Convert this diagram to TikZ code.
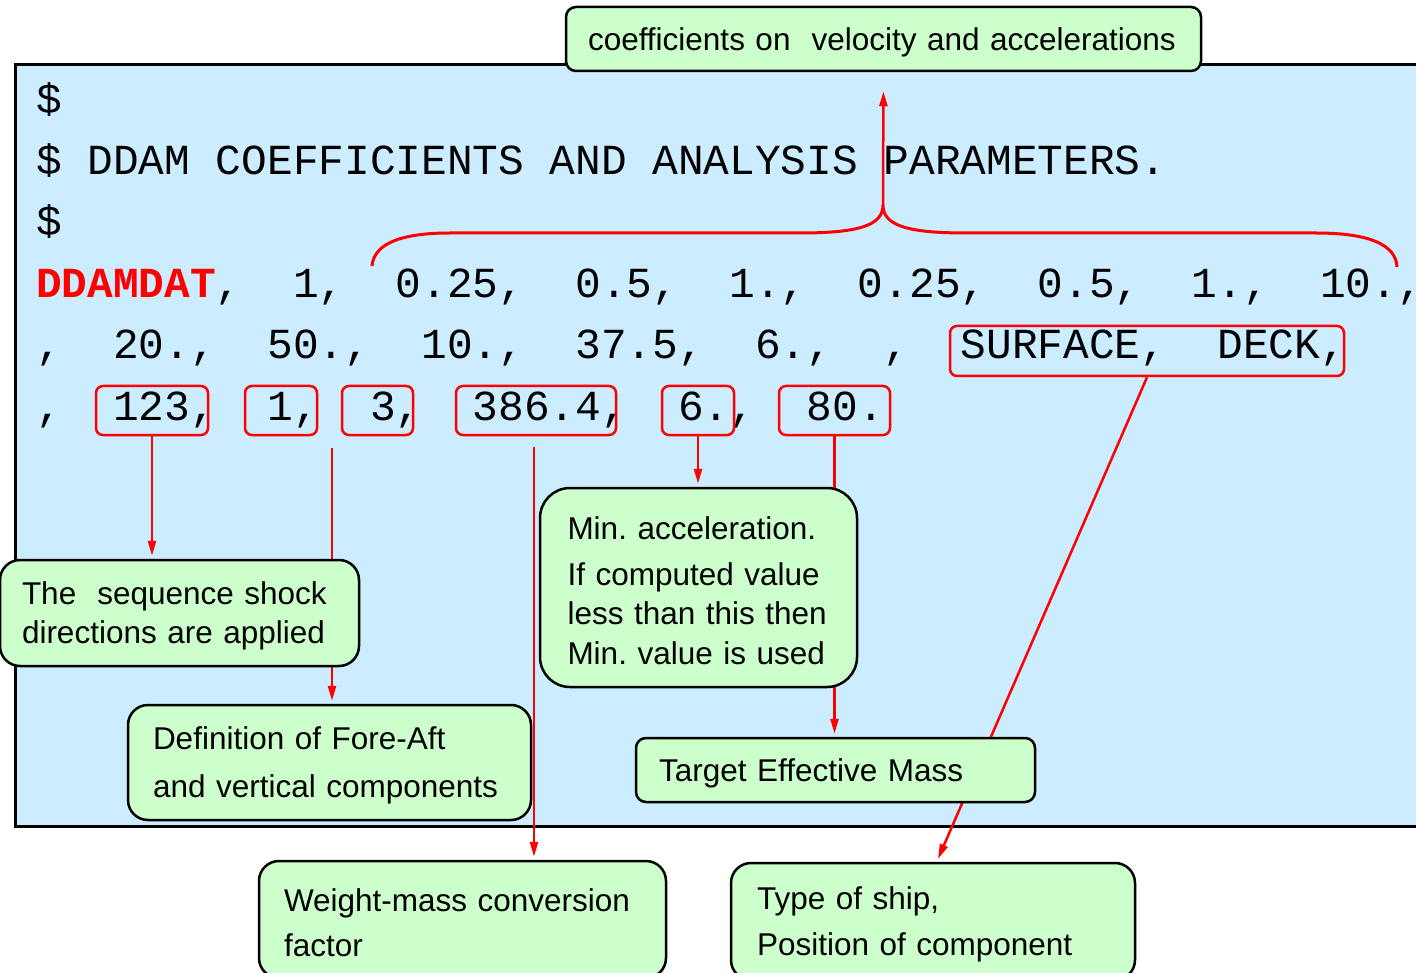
\documentclass[tikz,border=0pt]{standalone}
\usepackage{fontspec}
\setmainfont{Liberation Sans}
\newfontfamily\codefont{Liberation Mono}
\usetikzlibrary{arrows.meta,backgrounds}
\definecolor{panelblue}{RGB}{204,236,255}
\definecolor{notegreen}{RGB}{204,255,204}
\tikzset{
  codeline/.style={anchor=base west, inner sep=0pt, font=\codefont\fontsize{42.8}{50}\selectfont\frenchspacing},
  valbox/.style={draw=red, line width=2.5pt, rounded corners=7pt, inner sep=0pt},
  note/.style={draw=black, line width=2.5pt, fill=notegreen, rounded corners=20pt,
    align=left, inner ysep=0pt, font=\fontsize{31.5}{39.5}\selectfont\frenchspacing,
    execute at begin node={\rule{0pt}{29pt}}},
  pointer/.style={draw=red, line width=2.5pt, shorten >=3pt, -{Triangle[length=15pt,width=8pt]}},
}
\begin{document}
\begin{tikzpicture}[x=1pt,y=-1pt]
\useasboundingbox (0,0) rectangle (1416,973);

% card listing
\node[codeline] (dollarA) at (36,114) {\$};
\node[codeline] (title) at (36,175) {\$ DDAM COEFFICIENTS AND ANALYSIS PARAMETERS.};
\node[codeline] (dollarB) at (36,236) {\$};
\node[codeline] (cardA) at (36,298) {\textcolor{red}{\bfseries DDAMDAT},~~1,~~0.25,~~0.5,~~1.,~~0.25,~~0.5,~~1.,~~10.,};
\node[codeline] (cardB) at (36,359) {,~~20.,~~50.,~~10.,~~37.5,~~6.,~~,~~SURFACE,~~DECK,};
\node[codeline] (cardC) at (36,420) {,~~123,~~1,~~3,~~386.4,~~6.,~~80.};

% marked values
\node[valbox, minimum width=112pt, minimum height=49pt] (b123) at (152,410.5) {};
\node[valbox, minimum width=72pt, minimum height=49pt] (bone) at (281,410.5) {};
\node[valbox, minimum width=71pt, minimum height=49pt] (bthree) at (377.5,410.5) {};
\node[valbox, minimum width=160pt, minimum height=49pt] (bfactor) at (536,410.5) {};
\node[valbox, minimum width=72pt, minimum height=49pt] (bmin) at (698,410.5) {};
\node[valbox, minimum width=111pt, minimum height=49pt] (bmass) at (834.5,410.5) {};
\node[valbox, minimum width=394pt, minimum height=50pt] (bdeck) at (1147,351) {};

% notes
\node[note, rounded corners=10pt, text width=591pt, inner xsep=22pt, minimum height=64pt] (coef) at (883.5,39) {coefficients on\ \ velocity and accelerations};
\node[note, text width=315pt, inner xsep=22pt, minimum height=106pt] (seq) at (179.5,613) {The\ \ sequence shock\\directions are applied};
\node[note, text width=353pt, inner xsep=25pt, minimum height=115pt] (fore) at (329.5,762.5) {Definition of Fore-Aft\\[8pt]and vertical components};
\node[note, rounded corners=30pt, text width=262pt, inner xsep=27.5pt, minimum height=199pt] (minacc) at (698.5,587.5) {Min. acceleration.\\[6pt]If computed value\\less than this then\\Min. value is used};
\node[note, rounded corners=10pt, text width=353pt, inner xsep=23pt, minimum height=64pt] (target) at (835.5,770) {Target Effective Mass};
\node[note, text width=357pt, inner xsep=25pt, minimum height=117pt] (weight) at (462.5,919.5) {Weight-mass conversion\\[6pt]factor};
\node[note, text width=352pt, inner xsep=26pt, minimum height=117pt] (ship) at (933,921.5) {Type of ship,\\[6pt]Position of component};

% brace over the coefficients
\coordinate (bracetip) at (883,205);
\draw[red, line width=3pt] (372,266) .. controls (374,242) and (405,233) .. (450,233) -- (800,233)
  .. controls (860,233) and (883,225) .. (bracetip) .. controls (883,225) and (906,233) .. (966,233)
  -- (1316,233) .. controls (1370,233) and (1396,245) .. (1397,267);
\draw[pointer, shorten >=19pt] (bracetip) -- (coef.south);

\begin{pgfonlayer}{background}
\draw[line width=3pt, fill=panelblue] (15,65) rectangle (1422,826);
\coordinate (foretap) at (332,448);
\coordinate (weighttap) at (534,447);
\draw[pointer] (b123.south) -- (b123.south |- seq.north);
\draw[pointer] (foretap) -- (foretap |- fore.north);
\draw[pointer] (weighttap) -- (weighttap |- weight.north);
\draw[pointer] (bmin.south) -- (bmin.south |- minacc.north);
\draw[pointer] (bmass.south) -- (bmass.south |- target.north);
\draw[pointer] (bdeck.south) -- ([xshift=207pt]ship.north west);
\end{pgfonlayer}
\end{tikzpicture}
\end{document}
